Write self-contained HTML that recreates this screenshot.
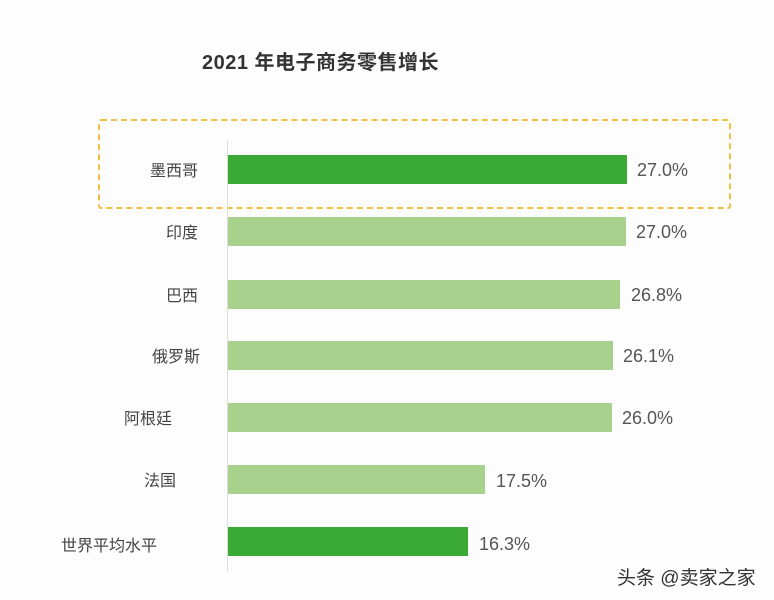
<!DOCTYPE html>
<html><head><meta charset="utf-8"><style>
body{margin:0;width:774px;height:600px;background:#fdfdfd;position:relative;overflow:hidden;font-family:"Liberation Sans","Noto Sans CJK SC",sans-serif;}
.t{position:absolute;left:202px;top:46px;font-size:20px;font-weight:bold;color:#333;letter-spacing:0.5px}
.bar{position:absolute;left:228px;height:29px;}
.lab{position:absolute;width:198px;left:0;text-align:right;font-size:16px;color:#444;}
.val{position:absolute;font-size:18px;color:#555;}
</style></head><body>
<div class="t">2021 年电子商务零售增长</div>
<div style="position:absolute;left:98px;top:119px;width:629px;height:86px;border:2px dashed #f0c040;border-radius:3px"></div>
<div style="position:absolute;left:227px;top:140px;width:1px;height:432px;background:#ddd"></div>

<div class="lab" style="top:157px">墨西哥</div><div class="bar" style="top:155px;width:399px;background:#3aaa35"></div><div class="val" style="left:637px;top:160px">27.0%</div>
<div class="lab" style="top:219px">印度</div><div class="bar" style="top:217px;width:398px;background:#a8d18d"></div><div class="val" style="left:636px;top:222px">27.0%</div>
<div class="lab" style="top:282px">巴西</div><div class="bar" style="top:280px;width:392px;background:#a8d18d"></div><div class="val" style="left:631px;top:285px">26.8%</div>
<div class="lab" style="top:343px;width:200px">俄罗斯</div><div class="bar" style="top:341px;width:385px;background:#a8d18d"></div><div class="val" style="left:623px;top:346px">26.1%</div>
<div class="lab" style="top:405px;width:172px">阿根廷</div><div class="bar" style="top:403px;width:384px;background:#a8d18d"></div><div class="val" style="left:622px;top:408px">26.0%</div>
<div class="lab" style="top:467px;width:176px">法国</div><div class="bar" style="top:465px;width:257px;background:#a8d18d"></div><div class="val" style="left:496px;top:471px">17.5%</div>
<div class="lab" style="top:532px;width:157px">世界平均水平</div><div class="bar" style="top:527px;width:240px;background:#3aaa35"></div><div class="val" style="left:479px;top:534px">16.3%</div>
<div style="position:absolute;left:617px;top:563px;font-size:19px;color:#333">头条 @卖家之家</div>
</body></html>
